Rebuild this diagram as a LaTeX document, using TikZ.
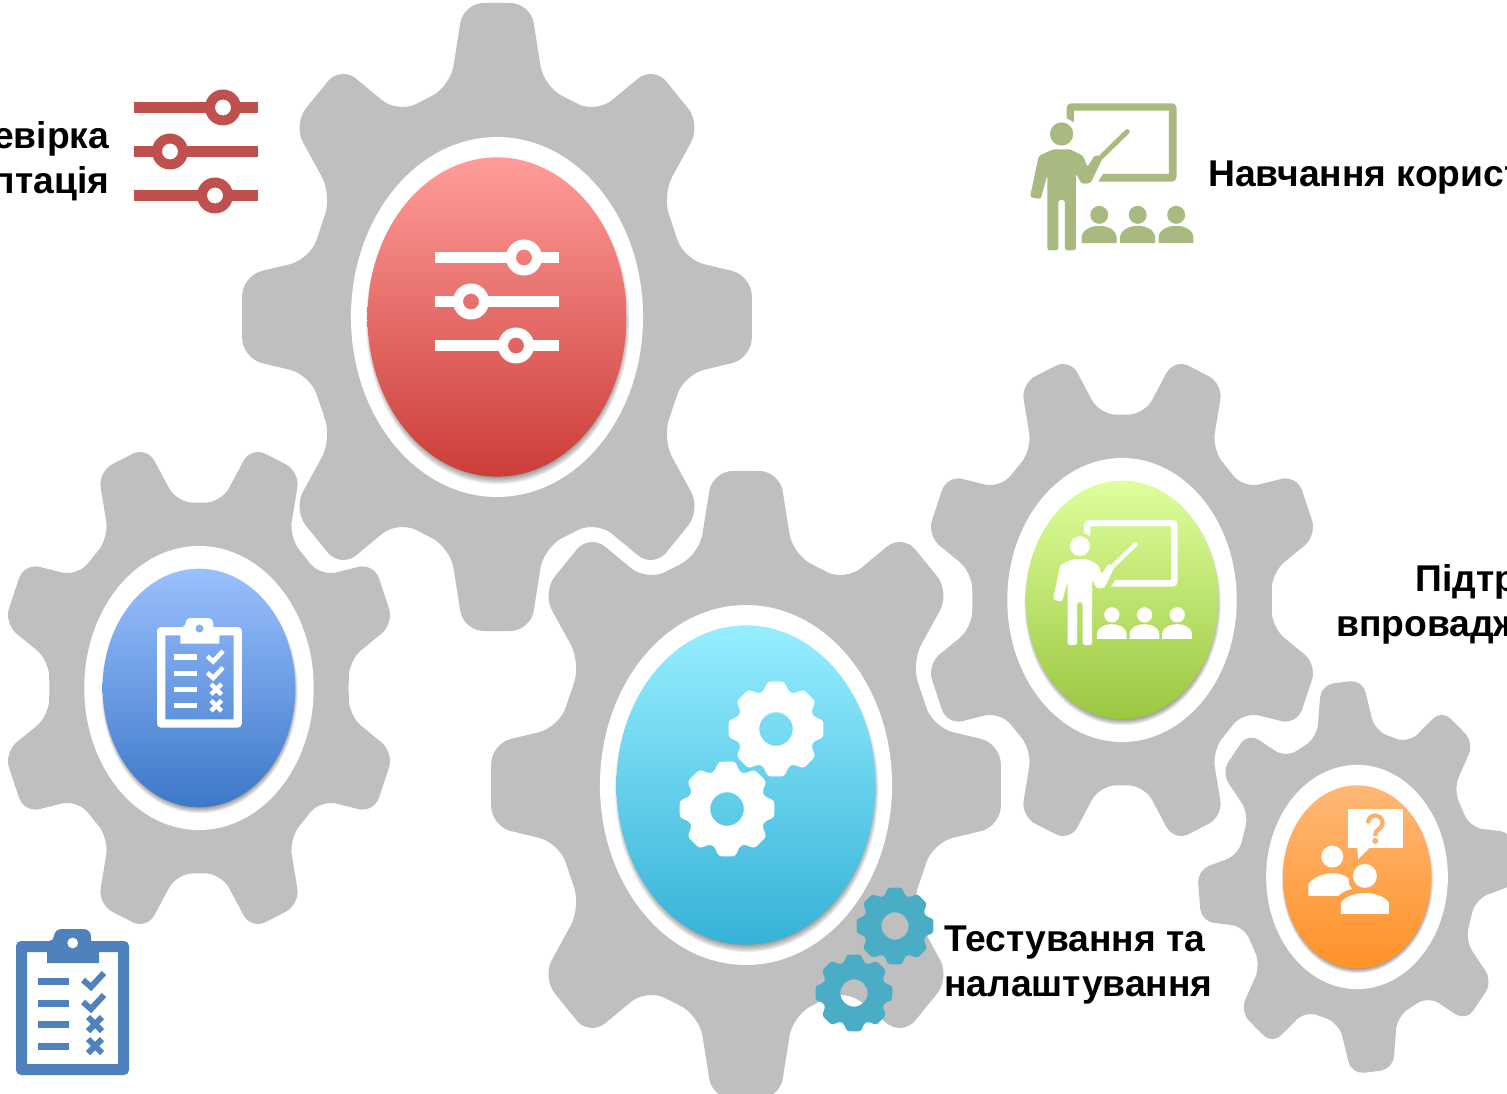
\documentclass[tikz,border=0pt]{standalone}
\usepackage{fontspec}
\setmainfont{Liberation Sans}

\definecolor{gearGray}{HTML}{BFBFBF}
\definecolor{iconRed}{HTML}{C0504D}
\definecolor{iconGreen}{HTML}{A8BA80}
\definecolor{iconBlue}{HTML}{4F81BD}
\definecolor{iconCyan}{HTML}{4BACC6}
\definecolor{markOrange}{HTML}{FDAF6E}
\definecolor{redTop}{HTML}{FF9C99}
\definecolor{redBottom}{HTML}{CC3D38}
\definecolor{blueTop}{HTML}{9AC0FF}
\definecolor{blueBottom}{HTML}{3D78C8}
\definecolor{greenTop}{HTML}{DEFF9C}
\definecolor{greenBottom}{HTML}{9BC740}
\definecolor{cyanTop}{HTML}{96EEFF}
\definecolor{cyanBottom}{HTML}{36B2D8}
\definecolor{orangeTop}{HTML}{FFB877}
\definecolor{orangeBottom}{HTML}{FF9228}

\tikzset{
    caption/.style={font=\bfseries\fontsize{21.2}{25.6}\selectfont, text=black, inner sep=0pt},
}

% Велика шестерня з овалом
\newcommand{\gearwheel}[8]{%
    \begin{scope}[shift={(#1,#2)}, x={#3*0.02cm}, y={#4*0.02cm}]
        \fill[gearGray, rounded corners={#3*0.0016cm}] ({#5-14}:0.76)
            \foreach \a in {0,45,...,270} {
                -- ({#5+\a-7.5}:1.012) -- ({#5+\a+7.5}:1.012) -- ({#5+\a+14}:0.76)
                -- ({#5+\a+22.5}:0.75) -- ({#5+\a+31}:0.76)
            }
            -- ({#5+315-7.5}:1.012) -- ({#5+315+7.5}:1.012) -- ({#5+315+14}:0.76)
            -- ({#5+315+22.5}:0.75) -- cycle;
        \fill[white] (0,0) ellipse (0.575 and 0.575);
        \foreach \k in {0,1,...,6} {
            \fill[black, opacity=0.07] (0.003,0.015) ellipse ({#8-0.015+0.004*\k} and {#8-0.015+0.004*\k});
        }
        \shade[top color=#6, bottom color=#7] (0,0) ellipse (#8 and #8);
    \end{scope}
}

% Маленька шестерня
\newcommand{\smallcog}[4]{%
    \begin{scope}[shift={(#1,#2)}, x={#3*0.02cm}, y={#3*0.02cm}]
        \fill[#4, even odd rule, rounded corners={#3*0.0012cm}] (-19:0.82)
            \foreach \a in {0,45,...,270} {
                -- ({\a-10}:1.0) -- ({\a+10}:1.0) -- ({\a+19}:0.82) -- ({\a+26}:0.82)
            }
            -- (305:1.0) -- (325:1.0) -- (334:0.82) -- cycle
            [sharp corners] (0,0) circle (0.35);
    \end{scope}
}

% Повзунки
\newcommand{\slidersicon}[3]{%
    \begin{scope}[shift={(#1,#2)}]
        \fill[#3] (0,-5.5) rectangle (76,5.5);
        \fill[#3] (102,-5.5) rectangle (124,5.5);
        \fill[#3] (0,38.5) rectangle (23,49.5);
        \fill[#3] (49,38.5) rectangle (124,49.5);
        \fill[#3] (0,82.5) rectangle (68,93.5);
        \fill[#3] (94,82.5) rectangle (124,93.5);
        \fill[#3, even odd rule] (89,0) circle (18) circle (8);
        \fill[#3, even odd rule] (36,44) circle (18) circle (8);
        \fill[#3, even odd rule] (81,88) circle (18) circle (8);
    \end{scope}
}

% Планшет зі списком
\newcommand{\clipboardicon}[4]{%
    \begin{scope}[shift={(#1,#2)}, x={#3*0.02cm}, y={-#3*0.02cm}]
        \fill[#4, even odd rule] (38,12) -- (38,8)
            .. controls (38,3) and (41,0) .. (46,0) -- (67,0)
            .. controls (72,0) and (75,3) .. (75,8) -- (75,12)
            [rounded corners={#3*0.1cm}] -- (113,12) -- (113,146) -- (0,146) -- (0,12) -- cycle
            [sharp corners] (11,23) -- (31,23) -- (31,34) -- (83,34) -- (83,23) -- (102,23) -- (102,135) -- (11,135) -- cycle
            (56.7,14) circle (5.5);
        \foreach \y in {52,74,95,117} {
            \fill[#4] (22,\y-3.5) rectangle (53,\y+3.5);
        }
        \draw[#4, line width={#3*0.12cm}] (67,51) -- (75,58) -- (88,44);
        \draw[#4, line width={#3*0.12cm}] (67,73) -- (75,80) -- (88,66);
        \draw[#4, line width={#3*0.12cm}] (72,88) -- (86,102) (72,102) -- (86,88);
        \draw[#4, line width={#3*0.12cm}] (72,110) -- (86,124) (72,124) -- (86,110);
    \end{scope}
}

% Викладач біля дошки
\newcommand{\teachericon}[4]{%
    \begin{scope}[shift={(#1,#2)}, x={#3*0.02cm}, y={-#3*0.02cm}]
        \fill[#4] (140,85) [rounded corners=2.5pt] -- (140,40) -- (470,40) -- (470,275)
            [sharp corners] -- (235,275) -- (250,252) -- (447,252) -- (447,62) -- (162,62) -- (162,97) -- cycle;
        \fill[#4] (125,132) circle (35);
        \fill[#4, rounded corners=1.5pt] (82,482) -- (82,255) -- (62,328) -- (30,322) -- (56,198)
            -- (100,178) -- (150,178) -- (190,198) -- (202,232) -- (225,195) -- (250,200) -- (212,280)
            -- (185,282) -- (168,250) -- (168,482) -- (135,482) -- (135,330) -- (115,330) -- (115,482) -- cycle;
        \draw[#4, line cap=round, line width={#3*0.3cm}] (322,125) -- (245,200);
        \foreach \x in {0,115.5,231} {
            \fill[#4] (238+\x,375) circle (27);
            \fill[#4] (185+\x,460) -- (185+\x,440) .. controls (190+\x,415) and (220+\x,408) .. (238+\x,408)
                .. controls (256+\x,408) and (285+\x,415) .. (290+\x,440) -- (290+\x,460) -- cycle;
        }
    \end{scope}
}

% Люди із запитанням
\newcommand{\supporticon}[3]{%
    \begin{scope}[shift={(#1,#2)}, x={#3*0.02cm}, y={-#3*0.02cm}]
        \fill[white] (233,57) rectangle (400,175);
        \fill[white] (262,170) -- (265,208) -- (302,170) -- cycle;
        \draw[markOrange, line width=2.4pt] (294,100) .. controls (294,68) and (338,70) .. (338,100)
            .. controls (338,118) and (316,115) .. (316,138);
        \fill[markOrange] (316,153) circle (9);
        \fill[white] (187,200) circle (33);
        \fill[white] (115,318) -- (115,282) .. controls (135,255) and (195,235) .. (236,265)
            .. controls (236,285) and (240,292) .. (247,297) .. controls (230,300) and (215,308) .. (205,318) -- cycle;
        \fill[white] (285,258) circle (36);
        \fill[white] (213,372) -- (213,338) .. controls (240,300) and (330,300) .. (357,338) -- (357,372) -- cycle;
    \end{scope}
}

\begin{document}
\begin{tikzpicture}[x=0.02cm, y=-0.02cm]
    \useasboundingbox (0,0) rectangle (1507,1094);

    % Шестерні
    \gearwheel{497}{317}{254}{-313}{0}{redTop}{redBottom}{0.51}
    \gearwheel{199}{688}{199.5}{-247}{22.5}{blueTop}{blueBottom}{0.483}
    \gearwheel{1122}{600}{199.5}{-247}{22.5}{greenTop}{greenBottom}{0.483}
    \gearwheel{1357}{877}{158}{-195}{-5.5}{orangeTop}{orangeBottom}{0.47}
    \gearwheel{746}{785}{254}{-313}{0}{cyanTop}{cyanBottom}{0.51}

    % Значки на овалах
    \slidersicon{435}{257.5}{white}
    \clipboardicon{157}{618}{0.75}{white}
    \teachericon{1044.5}{508.7}{0.283}{white}
    \supporticon{1270}{790}{0.333}
    \smallcog{776}{729}{48}{white}
    \smallcog{727}{809}{48}{white}

    % Значки біля підписів
    \slidersicon{134}{107.5}{iconRed}
    \clipboardicon{16}{929}{1}{iconBlue}
    \teachericon{1020}{90}{0.333}{iconGreen}
    \smallcog{895}{926}{39}{iconCyan}
    \smallcog{854}{993}{39}{iconCyan}

    % Підписи
    \node[caption, anchor=east, align=right] (checkLabel) at (109.5,161) {Перевірка\\адаптація};
    \node[caption, anchor=west] (trainLabel) at (1208,177) {Навчання користувачів};
    \node[caption, anchor=east, align=right] (supportLabel) at (1607.5,604) {Підтримка\\впровадження};
    \node[caption, anchor=west, align=left] (testLabel) at (944,965.5) {Тестування та\\налаштування};
\end{tikzpicture}
\end{document}
